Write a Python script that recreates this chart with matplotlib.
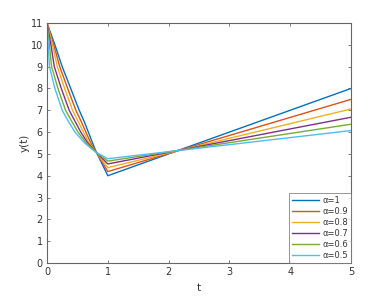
import matplotlib
matplotlib.use("Agg")
import matplotlib.pyplot as plt

labels = ["α=1", "α=0.9", "α=0.8", "α=0.7", "α=0.6", "α=0.5"]
colors = ["#0072BD", "#D95319", "#EDB120", "#7E2F8E", "#77AC30", "#4DBEEE"]

t_a10 = [0, 0.13, 0.25, 0.39, 0.53, 0.61, 0.68, 0.75, 0.80, 1, 5]
t_a09 = [0, 0.11, 0.21, 0.34, 0.475, 0.56, 0.64, 0.72, 0.80, 1, 5]
t_a08 = [0, 0.09, 0.17, 0.29, 0.42, 0.51, 0.60, 0.69, 0.80, 1, 5]
t_a07 = [0, 0.065, 0.12, 0.235, 0.365, 0.46, 0.555, 0.67, 0.80, 1, 5]
t_a06 = [0, 0.04, 0.075, 0.18, 0.305, 0.405, 0.51, 0.645, 0.80, 1, 5]
t_a05 = [0, 0.02, 0.04, 0.13, 0.25, 0.35, 0.46, 0.62, 0.80, 1, 5]

y_a10 = [11, 10, 9, 8, 7, 6.5, 6, 5.5, 5.15, 4.00, 8.00]
y_a09 = [11, 10, 9, 8, 7, 6.5, 6, 5.5, 5.13, 4.19, 7.50]
y_a08 = [11, 10, 9, 8, 7, 6.5, 6, 5.5, 5.11, 4.37, 7.06]
y_a07 = [11, 10, 9, 8, 7, 6.5, 6, 5.5, 5.10, 4.54, 6.68]
y_a06 = [11, 10, 9, 8, 7, 6.5, 6, 5.5, 5.09, 4.67, 6.36]
y_a05 = [11, 10, 9, 8, 7, 6.5, 6, 5.5, 5.08, 4.78, 6.07]

ts = [t_a10, t_a09, t_a08, t_a07, t_a06, t_a05]
ys = [y_a10, y_a09, y_a08, y_a07, y_a06, y_a05]

xticks = [0, 1, 2, 3, 4, 5]
yticks = list(range(0, 12))

fig = plt.figure(figsize=(3.76, 3.04), dpi=100)
ax = fig.add_axes([47/376, 41/304, 304/376, 240/304])
for t, y, c, l in zip(ts, ys, colors, labels):
    ax.plot(t, y, color=c, lw=1.0, label=l)

ax.set_xlim(0, 5)
ax.set_ylim(0, 11)
ax.set_xticks(xticks)
ax.set_yticks(yticks)
gc = "#333333"
for s in ax.spines.values():
    s.set_color("#666666")
    s.set_linewidth(0.8)
ax.tick_params(direction="in", length=2.5, width=0.6, labelsize=7, colors="#666666",
               labelcolor=gc, top=True, right=True, pad=3)
ax.set_xlabel("t", fontsize=7.5, color=gc, labelpad=4)
ax.set_ylabel("y(t)", fontsize=7.5, color=gc, labelpad=1)

leg = ax.legend(loc="lower right", fontsize=6, handlelength=3.2, handletextpad=0.4,
                borderaxespad=0, frameon=True, fancybox=False, labelspacing=0.25,
                borderpad=0.35)
leg.get_frame().set_edgecolor("#666666")
leg.get_frame().set_linewidth(0.6)
for txt in leg.get_texts():
    txt.set_color(gc)

fig.savefig("out.png", dpi=100)
